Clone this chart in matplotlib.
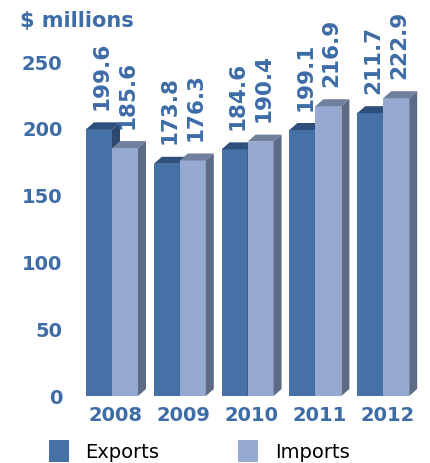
import matplotlib
matplotlib.use("Agg")
import matplotlib.pyplot as plt
from matplotlib.patches import Polygon, Rectangle

years = ["2008", "2009", "2010", "2011", "2012"]
exports = [199.6, 173.8, 184.6, 199.1, 211.7]
imports = [185.6, 176.3, 190.4, 216.9, 222.9]
yticks = [0, 50, 100, 150, 200, 250]

FRONT_EXP, TOP_EXP, SIDE_EXP = "#4571a7", "#2f4f7c", "#2c4870"
FRONT_IMP, TOP_IMP, SIDE_IMP = "#95a9d1", "#71809d", "#5e6b86"
TXT = "#3d6ca6"

W, H = 431, 463
fig = plt.figure(figsize=(W / 100, H / 100), dpi=100)

# axes placed in pixel terms: y=0 at 396px, y=250 at 62px from top
px_unit = 67.8          # pixels per group
left_px, x0_px = 75, 112
ax = fig.add_axes([left_px / W, (H - 396) / H, (W - left_px) / W, (396 - 62) / H])
ax.set_xlim((left_px - x0_px) / px_unit, (W - x0_px) / px_unit)
ax.set_ylim(0, 250)
for s in ax.spines.values():
    s.set_visible(False)

bw = 26 / px_unit                 # bar width in x units
dx = 8 / px_unit                  # depth offset
dy = 7 * 250 / (396 - 62)         # depth offset in y units


def bar3d(xl, h, front, top, side):
    xr = xl + bw
    ax.add_patch(Rectangle((xl, 0), bw, h, facecolor=front, edgecolor="none"))
    ax.add_patch(Polygon([(xl, h), (xl + dx, h + dy), (xr + dx, h + dy), (xr, h)],
                         closed=True, facecolor=top, edgecolor="none"))
    ax.add_patch(Polygon([(xr, 0), (xr + dx, dy), (xr + dx, h + dy), (xr, h)],
                         closed=True, facecolor=side, edgecolor="none"))


for i, (e, m) in enumerate(zip(exports, imports)):
    bar3d(i - bw, e, FRONT_EXP, TOP_EXP, SIDE_EXP)
    bar3d(i, m, FRONT_IMP, TOP_IMP, SIDE_IMP)
    for xc, v in [(i - bw / 2 + dx / 3, e), (i + bw / 2 + dx / 3, m)]:
        ax.annotate(f"{v:.1f}", (xc, v), xytext=(0, 14), textcoords="offset points",
                    rotation=90, ha="center", va="bottom", fontsize=15.5,
                    fontweight="bold", color=TXT, annotation_clip=False)

ax.set_xticks([i + dx / 2 for i in range(len(years))])
ax.set_xticklabels(years, fontsize=14, fontweight="bold", color=TXT)
ax.set_yticks(yticks)
ax.set_yticklabels([str(t) for t in yticks], fontsize=14, fontweight="bold", color=TXT)
ax.tick_params(axis="both", length=0)
ax.tick_params(axis="x", pad=7)
ax.tick_params(axis="y", pad=9)

fig.text(20 / W, 1 - 21 / H, "$ millions", fontsize=15, fontweight="bold",
         color=TXT, ha="left", va="center")

# legend
for sx, tx, col, lab in [(49, 85, FRONT_EXP, "Exports"), (238, 275, FRONT_IMP, "Imports")]:
    fig.add_artist(Rectangle((sx / W, 1 - 462 / H), 20 / W, 22 / H,
                             facecolor=col, edgecolor="none", transform=fig.transFigure))
    fig.text(tx / W, 1 - 452 / H, lab, fontsize=14, color="black", ha="left", va="center")

fig.savefig("out.png", dpi=100)
